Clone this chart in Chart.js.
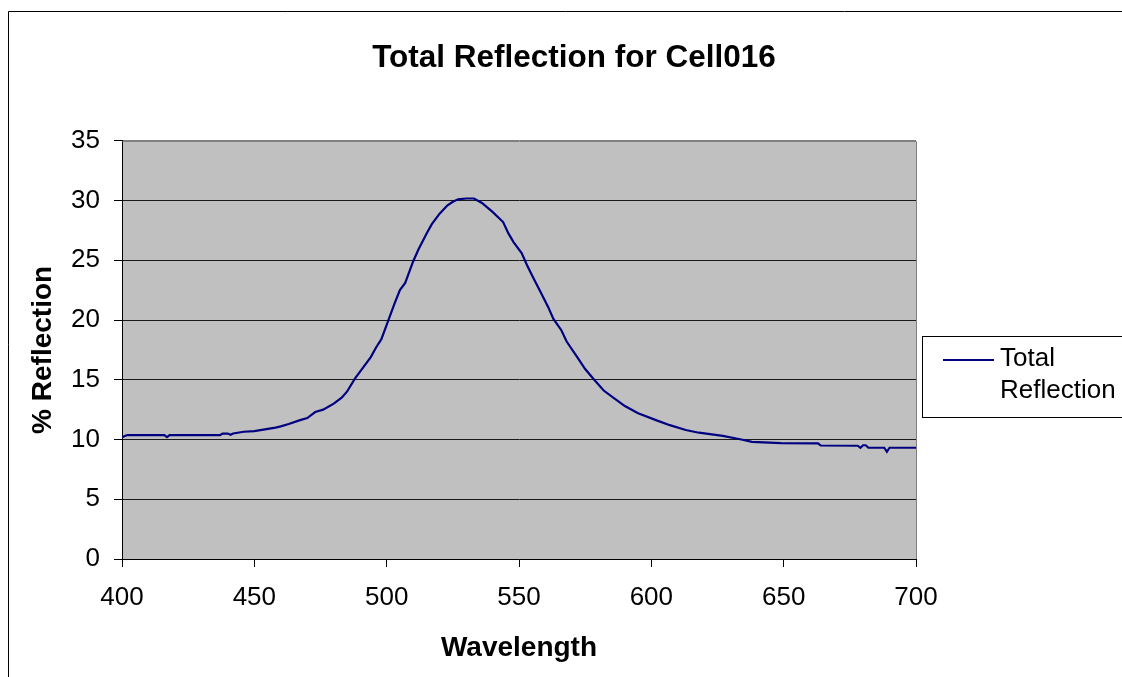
<!DOCTYPE html>
<html>
<head>
<meta charset="utf-8">
<title>Total Reflection for Cell016</title>
<script src="https://cdn.jsdelivr.net/npm/chart.js@4/dist/chart.umd.min.js"></script>
<style>
  html, body { margin: 0; padding: 0; background: #fff; }
  #chart { display: block; }
</style>
</head>
<body>
<canvas id="chart" width="1122" height="677"></canvas>
<script>
// wavelength (nm) and % reflection
const wavelengths = [
  400, 402, 405, 410, 416, 417, 418, 425, 430, 437,
  438, 440, 441, 442, 446, 450, 454, 458, 460, 463,
  467, 470, 473, 476, 480, 483, 485, 488, 491, 494,
  496, 498, 500, 503, 505, 507, 510, 512, 515, 517,
  520, 523, 525, 527, 530, 533, 536, 540, 544, 546,
  548, 551, 553, 555, 558, 561, 563, 566, 568, 572,
  575, 578, 582, 586, 590, 595, 602, 607, 613, 618,
  627, 634, 638, 649, 663, 664, 678, 679, 680, 681,
  682, 688, 689, 690, 700
];
const reflection = [
  10.2, 10.37, 10.37, 10.37, 10.37, 10.2, 10.37, 10.37, 10.37, 10.37,
  10.5, 10.5, 10.4, 10.5, 10.65, 10.7, 10.85, 11.0, 11.1, 11.3,
  11.6, 11.8, 12.3, 12.5, 13.0, 13.5, 14.0, 15.1, 16.0, 16.9,
  17.7, 18.4, 19.6, 21.4, 22.5, 23.1, 24.9, 25.9, 27.2, 28.0,
  28.9, 29.6, 29.9, 30.1, 30.17, 30.17, 29.8, 29.05, 28.2, 27.25,
  26.5, 25.6, 24.6, 23.7, 22.4, 21.1, 20.1, 19.15, 18.2, 16.9,
  15.9, 15.1, 14.1, 13.45, 12.8, 12.2, 11.6, 11.2, 10.8, 10.57,
  10.3, 10.0, 9.8, 9.7, 9.68, 9.5, 9.48, 9.31, 9.52, 9.52,
  9.31, 9.31, 8.97, 9.31, 9.31
];
const seriesName = 'Total Reflection';
const xTicks = [400, 450, 500, 550, 600, 650, 700];
const yTicks = [0, 5, 10, 15, 20, 25, 30, 35];

const FONT = 'Liberation Sans, Arial, Helvetica, sans-serif';
const LINE = '#000080';

// frame, grey plot background and the legend box, like the Excel original
const excelLook = {
  id: 'excelLook',
  beforeDraw(chart) {
    const { ctx, chartArea: a } = chart;
    ctx.save();
    ctx.strokeStyle = '#000';
    ctx.lineWidth = 1;
    ctx.beginPath();
    ctx.moveTo(8.5, 700);
    ctx.lineTo(8.5, 11.5);
    ctx.lineTo(1130, 11.5);
    ctx.stroke();
    ctx.fillStyle = '#C0C0C0';
    ctx.fillRect(a.left, a.top, a.right - a.left, a.bottom - a.top);
    ctx.restore();
  },
  beforeDatasetsDraw(chart) {
    const { ctx, chartArea: a } = chart;
    ctx.save();
    ctx.strokeStyle = '#808080';
    ctx.lineWidth = 1;
    ctx.beginPath();
    ctx.moveTo(Math.round(a.left) + 0.5, Math.round(a.top) + 0.5);
    ctx.lineTo(Math.round(a.right) + 0.5, Math.round(a.top) + 0.5);
    ctx.lineTo(Math.round(a.right) + 0.5, Math.round(a.bottom));
    ctx.stroke();
    ctx.restore();
  },
  afterDraw(chart) {
    const { ctx } = chart;
    ctx.save();
    ctx.strokeStyle = '#000';
    ctx.lineWidth = 1;
    ctx.strokeRect(922.5, 336.5, 220, 81);
    ctx.strokeStyle = LINE;
    ctx.lineWidth = 2;
    ctx.beginPath();
    ctx.moveTo(943, 360);
    ctx.lineTo(994, 360);
    ctx.stroke();
    ctx.fillStyle = '#000';
    ctx.font = '26px ' + FONT;
    ctx.textAlign = 'left';
    ctx.textBaseline = 'middle';
    const words = seriesName.split(' ');
    ctx.fillText(words[0], 1000, 359);
    ctx.fillText(words[1], 1000, 391);
    ctx.restore();
  }
};

new Chart(document.getElementById('chart'), {
  type: 'line',
  data: {
    datasets: [{
      label: seriesName,
      data: wavelengths.map((w, i) => ({ x: w, y: reflection[i] })),
      borderColor: LINE,
      borderWidth: 2.2,
      pointRadius: 0,
      tension: 0,
      fill: false
    }]
  },
  options: {
    responsive: false,
    animation: false,
    devicePixelRatio: 1,
    layout: { padding: { left: 26, top: 0, right: 0, bottom: 0 } },
    plugins: {
      legend: { display: false },
      tooltip: { enabled: false },
      title: {
        display: true,
        text: 'Total Reflection for Cell016',
        color: '#000',
        font: { family: FONT, size: 31.5, weight: 'bold' },
        padding: { top: 39, bottom: 64 }
      }
    },
    scales: {
      x: {
        type: 'linear',
        min: 400,
        max: 700,
        afterFit(scale) { scale.height = 118; },
        afterBuildTicks(scale) { scale.ticks = xTicks.map(v => ({ value: v })); },
        ticks: {
          autoSkip: false,
          maxRotation: 0,
          padding: 15,
          color: '#000',
          font: { family: FONT, size: 26 }
        },
        grid: {
          drawOnChartArea: false,
          drawTicks: true,
          tickLength: 8,
          tickColor: '#000'
        },
        border: { display: true, color: '#000', width: 1 },
        title: {
          display: true,
          text: 'Wavelength',
          color: '#000',
          font: { family: FONT, size: 28, weight: 'bold' },
          padding: { top: 0, bottom: 12 }
        }
      },
      y: {
        min: 0,
        max: 35,
        afterFit(scale) { scale.width = 96; },
        afterBuildTicks(scale) { scale.ticks = yTicks.map(v => ({ value: v })); },
        ticks: {
          padding: 14,
          color: '#000',
          font: { family: FONT, size: 26 }
        },
        grid: {
          color: ctx => (ctx.tick && ctx.tick.value === 35 ? '#808080' : '#1a1a1a'),
          lineWidth: 1,
          drawTicks: true,
          tickLength: 8,
          tickColor: '#000'
        },
        border: { display: true, color: '#000', width: 1 },
        title: {
          display: true,
          text: '% Reflection',
          color: '#000',
          font: { family: FONT, size: 28, weight: 'bold' },
          padding: { top: 0, bottom: 0 }
        }
      },
      // empty right-hand strip that leaves room for the legend box
      legendRoom: {
        type: 'linear',
        position: 'right',
        display: true,
        afterFit(scale) { scale.width = 206; },
        ticks: { display: false },
        grid: { display: false, drawTicks: false },
        border: { display: false }
      }
    }
  },
  plugins: [excelLook]
});
</script>
</body>
</html>
